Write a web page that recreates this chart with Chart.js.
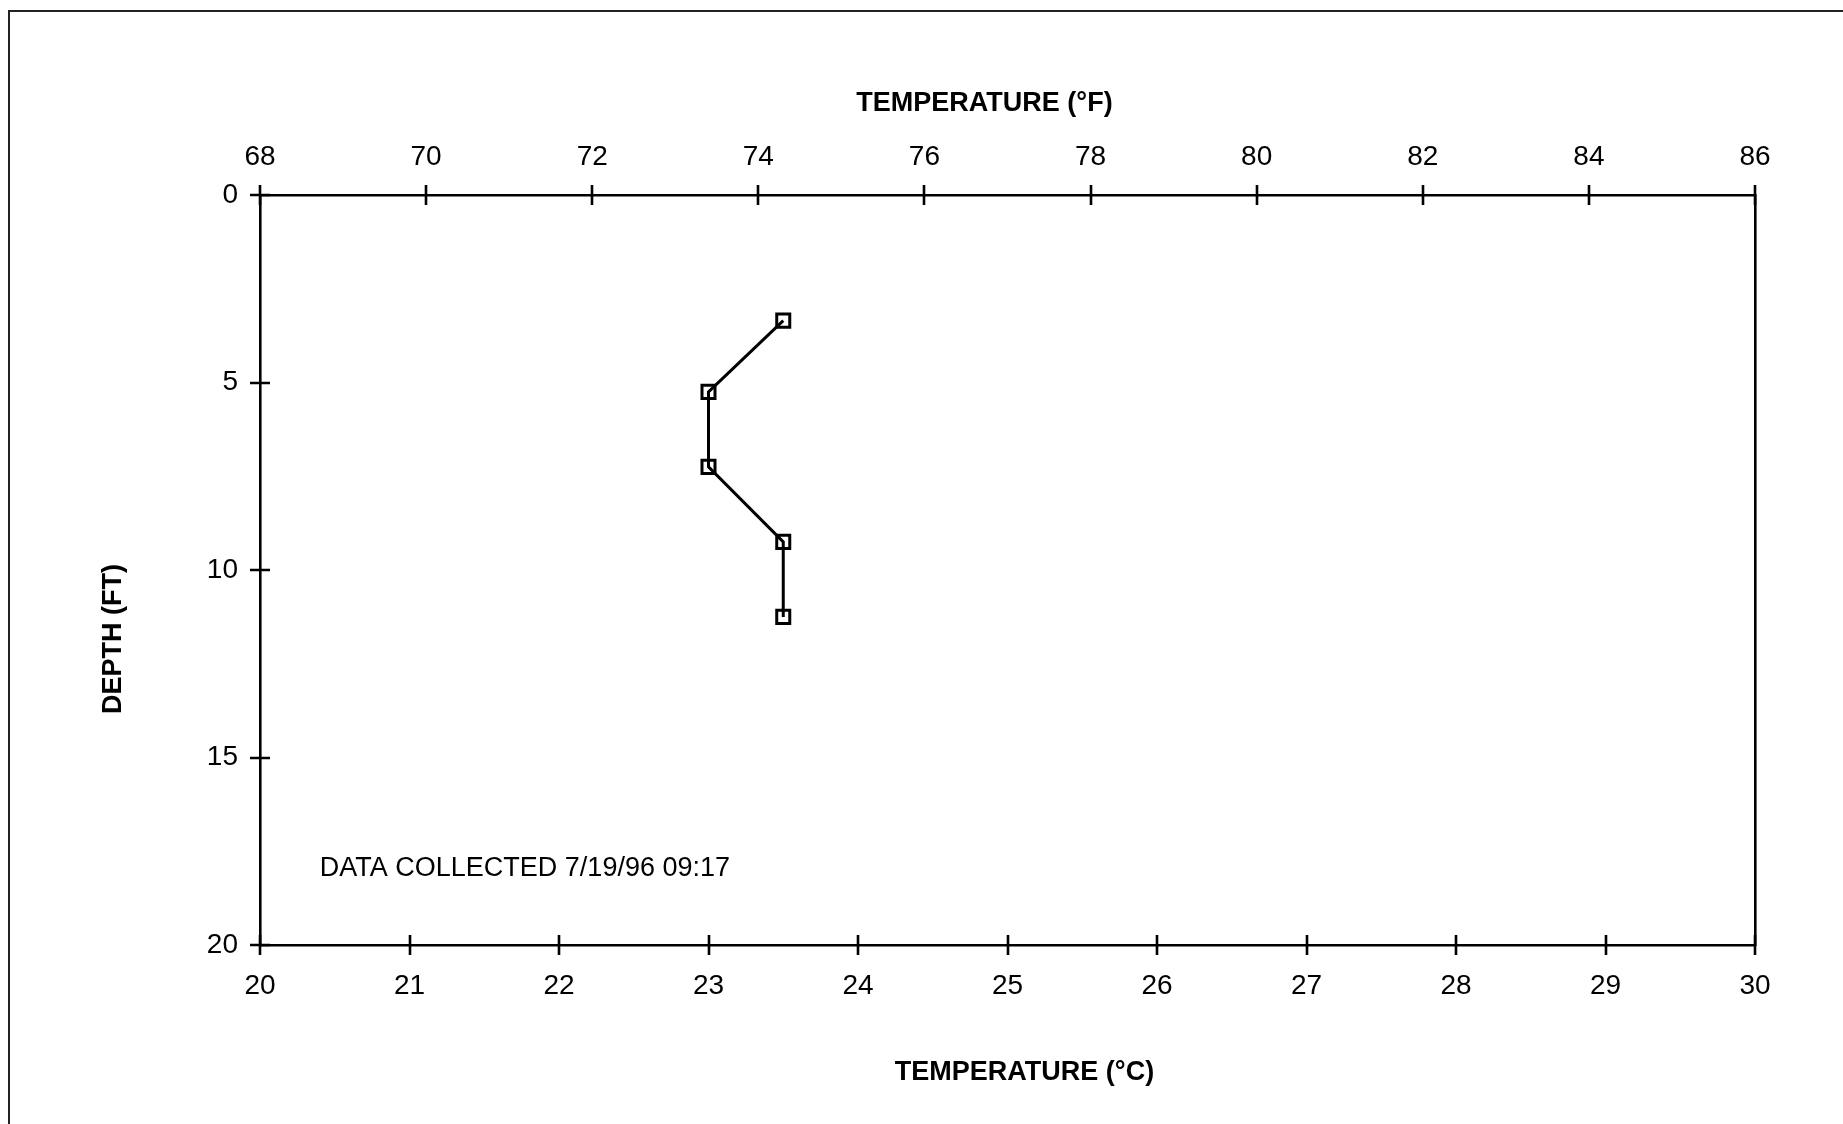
<!DOCTYPE html>
<html>
<head>
<meta charset="utf-8">
<title>Temperature profile</title>
<script src="https://cdn.jsdelivr.net/npm/chart.js@4.4.1/dist/chart.umd.min.js"></script>
<style>
  body { margin: 0; background: #fff; }
  #wrap { position: relative; width: 1843px; height: 1124px; }
  #frame {
    position: absolute; left: 8px; top: 10px; right: 0; bottom: 0;
    border-left: 2px solid #222; border-top: 2px solid #222;
    pointer-events: none;
  }
</style>
</head>
<body>
<div id="wrap">
  <canvas id="myChart"></canvas>
  <div id="frame"></div>
</div>
<script>
// readings: temperature (deg C) against depth (ft)
const tempC = [23.5, 23.0, 23.0, 23.5, 23.5];
const depthFt = [3.35, 5.25, 7.25, 9.25, 11.25];

const cTicks = [20, 21, 22, 23, 24, 25, 26, 27, 28, 29, 30];
const fTicks = [68, 70, 72, 74, 76, 78, 80, 82, 84, 86];
const depthTicks = [0, 5, 10, 15, 20];

const note = "DATA COLLECTED 7/19/96 09:17";
const noteAt = { x: 20.4, y: 17.95 };

const FONT = "'Liberation Sans', Arial, sans-serif";
const black = "#000";

let _points = tempC.map((t, i) => ({ x: t, y: depthFt[i] }));

// cross ticks, titles and the note
const decorations = {
  id: "decorations",
  afterDraw(chart) {
    const c = chart.ctx;
    const a = chart.chartArea;
    const sx = chart.scales.x;
    const sx2 = chart.scales.x2;
    const sy = chart.scales.y;
    c.save();
    c.strokeStyle = black;
    c.lineWidth = 2.6;
    c.beginPath();
    cTicks.forEach((v) => {
      const px = Math.round(sx.getPixelForValue(v));
      c.moveTo(px, a.bottom - 10);
      c.lineTo(px, a.bottom + 10);
    });
    fTicks.forEach((v) => {
      const px = Math.round(sx2.getPixelForValue(v));
      c.moveTo(px, a.top - 10);
      c.lineTo(px, a.top + 10);
    });
    depthTicks.forEach((v) => {
      const py = Math.round(sy.getPixelForValue(v));
      c.moveTo(a.left - 10, py);
      c.lineTo(a.left + 10, py);
    });
    c.stroke();

    c.fillStyle = black;
    c.textBaseline = "middle";
    c.textAlign = "center";
    c.font = "bold 27px " + FONT;
    const cx = (a.left + a.right) / 2;
    const cy = (a.top + a.bottom) / 2;
    c.fillText("TEMPERATURE (°F)", cx - 23, a.top - 91);
    c.fillText("TEMPERATURE (°C)", cx + 17, a.bottom + 128);
    c.save();
    c.translate(a.left - 146, cy + 69);
    c.rotate(-Math.PI / 2);
    c.fillText("DEPTH (FT)", 0, 0);
    c.restore();

    c.textAlign = "left";
    c.font = "27px " + FONT;
    c.fillText(note, sx.getPixelForValue(noteAt.x), sy.getPixelForValue(noteAt.y));
    c.restore();
  },
};

const tickFont = { family: FONT, size: 28 };

var ctx = document.getElementById("myChart").getContext("2d");
var chart = new Chart(ctx, {
  type: "line",
  data: {
    datasets: [
      {
        data: _points,
        xAxisID: "x",
        yAxisID: "y",
        borderColor: black,
        borderWidth: 3,
        backgroundColor: "rgba(0,0,0,0)",
        pointStyle: "rect",
        pointRadius: 9.2,
        pointBorderWidth: 3,
        pointBorderColor: black,
        pointBackgroundColor: "rgba(0,0,0,0)",
        tension: 0,
      },
    ],
  },
  options: {
    responsive: true,
    maintainAspectRatio: false,
    animation: false,
    layout: { padding: { left: 0, right: 88, top: 0, bottom: 0 } },
    plugins: {
      legend: { display: false },
      tooltip: { enabled: false },
    },
    scales: {
      x: {
        type: "linear",
        position: "bottom",
        min: 20,
        max: 30,
        afterBuildTicks: (s) => { s.ticks = cTicks.map((v) => ({ value: v })); },
        ticks: { font: tickFont, color: black, padding: 24, maxRotation: 0 },
        grid: { drawOnChartArea: false, drawTicks: false },
        border: { display: true, color: black, width: 2.6 },
        afterFit: (s) => { s.height = 179; s.paddingLeft = 0; s.paddingRight = 0; },
      },
      x2: {
        type: "linear",
        position: "top",
        min: 68,
        max: 86,
        afterBuildTicks: (s) => { s.ticks = fTicks.map((v) => ({ value: v })); },
        ticks: { font: tickFont, color: black, padding: 21, maxRotation: 0 },
        grid: { drawOnChartArea: false, drawTicks: false },
        border: { display: true, color: black, width: 2.6 },
        afterFit: (s) => { s.height = 195; s.paddingLeft = 0; s.paddingRight = 0; },
      },
      y: {
        type: "linear",
        position: "left",
        reverse: true,
        min: 0,
        max: 20,
        afterBuildTicks: (s) => { s.ticks = depthTicks.map((v) => ({ value: v })); },
        ticks: { font: tickFont, color: black, padding: 22 },
        grid: { drawOnChartArea: false, drawTicks: false },
        border: { display: true, color: black, width: 2.6 },
        afterFit: (s) => { s.width = 260; s.paddingTop = 0; s.paddingBottom = 0; },
      },
      y2: {
        type: "linear",
        position: "right",
        reverse: true,
        min: 0,
        max: 20,
        ticks: { display: false },
        grid: { drawOnChartArea: false, drawTicks: false },
        border: { display: true, color: black, width: 2.6 },
        afterFit: (s) => { s.width = 0; },
      },
    },
  },
  plugins: [decorations],
});
</script>
</body>
</html>
